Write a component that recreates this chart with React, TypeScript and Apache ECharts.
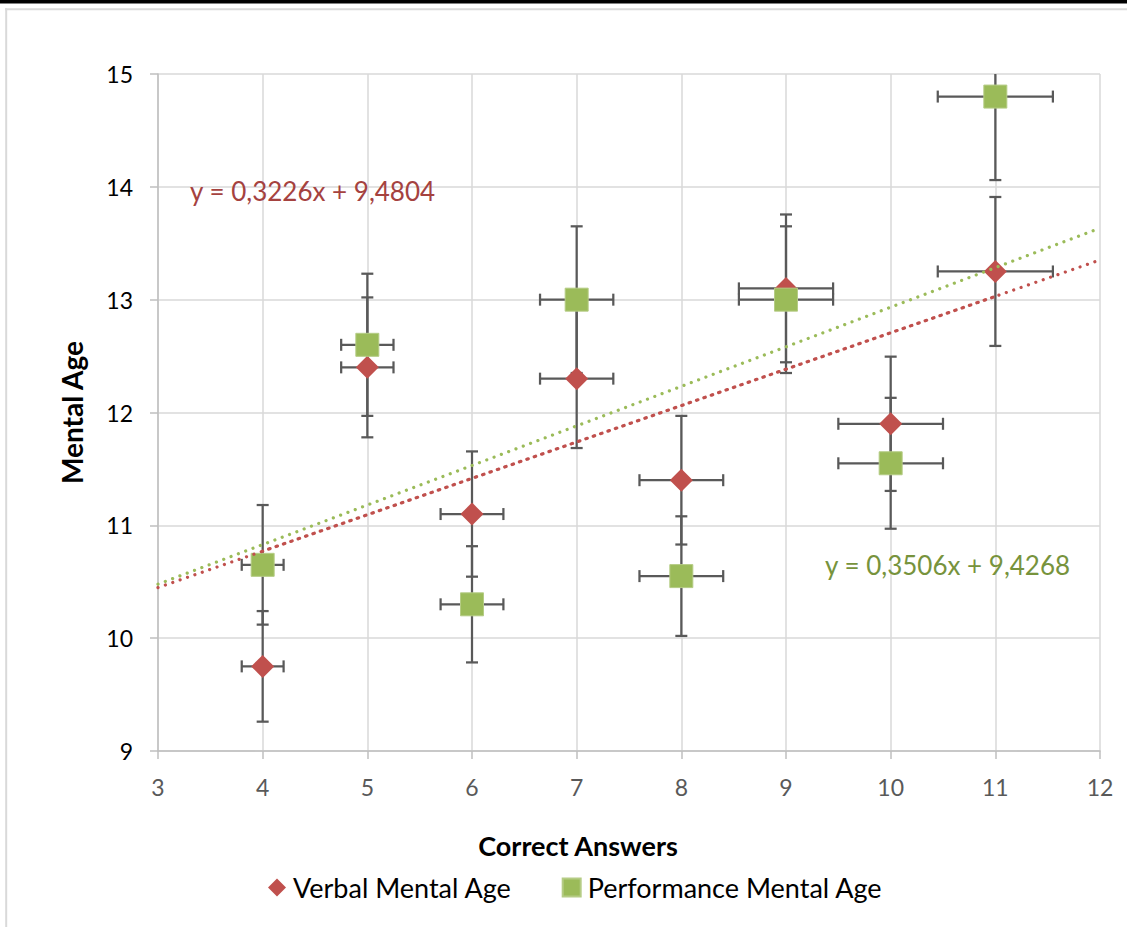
import React, { useEffect, useRef } from "react";
import * as echarts from "echarts";

const correctAnswers = [4, 5, 6, 7, 8, 9, 10, 11];
const verbalAge = [9.75, 12.4, 11.1, 12.3, 11.4, 13.1, 11.9, 13.25];
const performanceAge = [10.65, 12.6, 10.3, 13.0, 10.55, 13.0, 11.55, 14.8];
const verbalXErr = [0.2, 0.25, 0.3, 0.35, 0.4, 0.45, 0.5, 0.55];
const performanceXErr = [0.2, 0.25, 0.3, 0.35, 0.4, 0.45, 0.5, 0.55];
const verbalYErr = [0.49, 0.62, 0.555, 0.615, 0.57, 0.655, 0.595, 0.66];
const performanceYErr = [0.53, 0.63, 0.515, 0.65, 0.53, 0.65, 0.58, 0.74];
const verbalTrend = { slope: 0.3226, intercept: 9.4804 };
const performanceTrend = { slope: 0.3506, intercept: 9.4268 };
const trendRange = [3, 12];
const trendInnerRange = [4, 11];
const verbalLabel = "y = 0,3226x + 9,4804";
const performanceLabel = "y = 0,3506x + 9,4268";
const xTitle = "Correct Answers";
const yTitle = "Mental Age";
const seriesNames = ["Verbal Mental Age", "Performance Mental Age"];

const FONT = "Lato, 'Open Sans', sans-serif";
const RED = "#C0504D";
const GREEN = "#9BBB59";

function trendPoints(t: { slope: number; intercept: number }, range: number[]) {
  return range.map((x) => [x, t.slope * x + t.intercept]);
}

function errorData(ys: number[], xe: number[], ye: number[]) {
  return correctAnswers.map((x, i) => [x, ys[i], xe[i], ye[i]]);
}

function renderErrorBar(params: any, api: any) {
  const x = api.value(0);
  const y = api.value(1);
  const ex = api.value(2);
  const ey = api.value(3);
  const cs = params.coordSys;
  const top = cs.y;
  const bottom = cs.y + cs.height;
  const pL = api.coord([x - ex, y]);
  const pR = api.coord([x + ex, y]);
  const pT = api.coord([x, y + ey]);
  const pB = api.coord([x, y - ey]);
  const cap = 6;
  const style = { stroke: "#595959", lineWidth: 2.25 };
  const tY = Math.max(pT[1], top);
  const bY = Math.min(pB[1], bottom);
  const children: any[] = [
    { type: "line", shape: { x1: pT[0], y1: tY, x2: pB[0], y2: bY }, style },
    { type: "line", shape: { x1: pL[0], y1: pL[1], x2: pR[0], y2: pR[1] }, style },
    { type: "line", shape: { x1: pL[0], y1: pL[1] - cap, x2: pL[0], y2: pL[1] + cap }, style },
    { type: "line", shape: { x1: pR[0], y1: pR[1] - cap, x2: pR[0], y2: pR[1] + cap }, style },
  ];
  if (pT[1] >= top) {
    children.push({ type: "line", shape: { x1: pT[0] - cap, y1: pT[1], x2: pT[0] + cap, y2: pT[1] }, style });
  }
  if (pB[1] <= bottom) {
    children.push({ type: "line", shape: { x1: pB[0] - cap, y1: pB[1], x2: pB[0] + cap, y2: pB[1] }, style });
  }
  return { type: "group", children };
}

export default function App() {
  const ref = useRef<HTMLDivElement>(null);
  useEffect(() => {
    if (!ref.current) return;
    const chart = echarts.init(ref.current, null, { renderer: "svg" });
    const dotted = (color: string) => ({
      color,
      width: 3.25,
      type: [0.01, 7.8] as any,
      cap: "round" as any,
    });
    chart.setOption({
      animation: false,
      backgroundColor: "#fff",
      grid: { left: 158, right: 27, top: 74, bottom: 176 },
      xAxis: {
        type: "value",
        min: 3,
        max: 12,
        interval: 1,
        axisLine: { show: true, lineStyle: { color: "#BFBFBF", width: 1.5 } },
        axisTick: { show: true, length: 8, lineStyle: { color: "#BFBFBF", width: 1.5 } },
        axisLabel: { color: "#595959", fontSize: 23, fontFamily: FONT, margin: 24 },
        splitLine: { show: true, lineStyle: { color: "#D9D9D9", width: 1.5 } },
      },
      yAxis: {
        type: "value",
        min: 9,
        max: 15,
        interval: 1,
        name: yTitle,
        nameLocation: "middle",
        nameGap: 72,
        nameTextStyle: { color: "#000", fontSize: 28, fontWeight: "bold", fontFamily: FONT },
        axisLine: { show: true, lineStyle: { color: "#BFBFBF", width: 1.5 } },
        axisTick: { show: true, length: 8, lineStyle: { color: "#BFBFBF", width: 1.5 } },
        axisLabel: { color: "#000", fontSize: 23, fontFamily: FONT, margin: 25 },
        splitLine: { show: true, lineStyle: { color: "#D9D9D9", width: 1.5 } },
      },
      legend: {
        data: seriesNames,
        left: 268,
        top: 874,
        padding: 0,
        itemWidth: 18,
        itemHeight: 18,
        itemGap: 50,
        textStyle: { color: "#000", fontSize: 27, fontFamily: FONT, padding: [0, 0, 0, 2] },
      },
      graphic: [
        { type: "rect", shape: { x: 0, y: 0, width: 1127, height: 3.5 }, style: { fill: "#000" }, z: 100 },
        {
          type: "line",
          shape: { x1: 5, y1: 9.2, x2: 1127, y2: 9.2 },
          style: { stroke: "#D9D9D9", lineWidth: 2 },
          z: 100,
        },
        {
          type: "line",
          shape: { x1: 6.2, y1: 8.2, x2: 6.2, y2: 927 },
          style: { stroke: "#D9D9D9", lineWidth: 2 },
          z: 100,
        },
        {
          type: "text",
          x: 190,
          y: 191,
          style: { text: verbalLabel, fill: "#A5423F", fontSize: 26, fontFamily: FONT, verticalAlign: "middle" },
          z: 100,
        },
        {
          type: "text",
          x: 825,
          y: 565,
          style: { text: performanceLabel, fill: "#77933C", fontSize: 26, fontFamily: FONT, verticalAlign: "middle" },
          z: 100,
        },
        {
          type: "text",
          x: 578,
          y: 845,
          style: {
            text: xTitle,
            fill: "#000",
            fontSize: 27,
            fontWeight: "bold",
            fontFamily: FONT,
            align: "center",
            verticalAlign: "middle",
          },
          z: 100,
        },
      ],
      series: [
        {
          type: "custom",
          name: "verbalErr",
          renderItem: renderErrorBar,
          data: errorData(verbalAge, verbalXErr, verbalYErr),
          encode: { x: 0, y: 1 },
          z: 1,
          silent: true,
        },
        {
          type: "custom",
          name: "perfErr",
          renderItem: renderErrorBar,
          data: errorData(performanceAge, performanceXErr, performanceYErr),
          encode: { x: 0, y: 1 },
          z: 1,
          silent: true,
        },
        {
          type: "scatter",
          name: seriesNames[0],
          symbol: "diamond",
          symbolSize: 23,
          itemStyle: { color: RED, opacity: 1 },
          data: correctAnswers.map((x, i) => [x, verbalAge[i]]),
          z: 2,
        },
        {
          type: "scatter",
          name: seriesNames[1],
          symbol: "rect",
          symbolSize: 23,
          itemStyle: { color: GREEN, opacity: 1, borderColor: "#B5CC85", borderWidth: 1 },
          data: correctAnswers.map((x, i) => [x, performanceAge[i]]),
          z: 3,
        },
        {
          type: "line",
          name: "verbalTrend",
          data: trendPoints(verbalTrend, trendRange),
          showSymbol: false,
          symbol: "none",
          lineStyle: dotted(RED),
          silent: true,
          z: 4,
        },
        {
          type: "line",
          name: "verbalTrendInner",
          data: trendPoints(verbalTrend, trendInnerRange),
          showSymbol: false,
          symbol: "none",
          lineStyle: dotted(RED),
          silent: true,
          z: 4,
        },
        {
          type: "line",
          name: "perfTrend",
          data: trendPoints(performanceTrend, trendRange),
          showSymbol: false,
          symbol: "none",
          lineStyle: dotted(GREEN),
          silent: true,
          z: 4,
        },
      ],
    });
    return () => chart.dispose();
  }, []);
  return (
    <div
      ref={ref}
      style={{ position: "fixed", left: 0, top: 0, width: 1127, height: 927 }}
    />
  );
}
